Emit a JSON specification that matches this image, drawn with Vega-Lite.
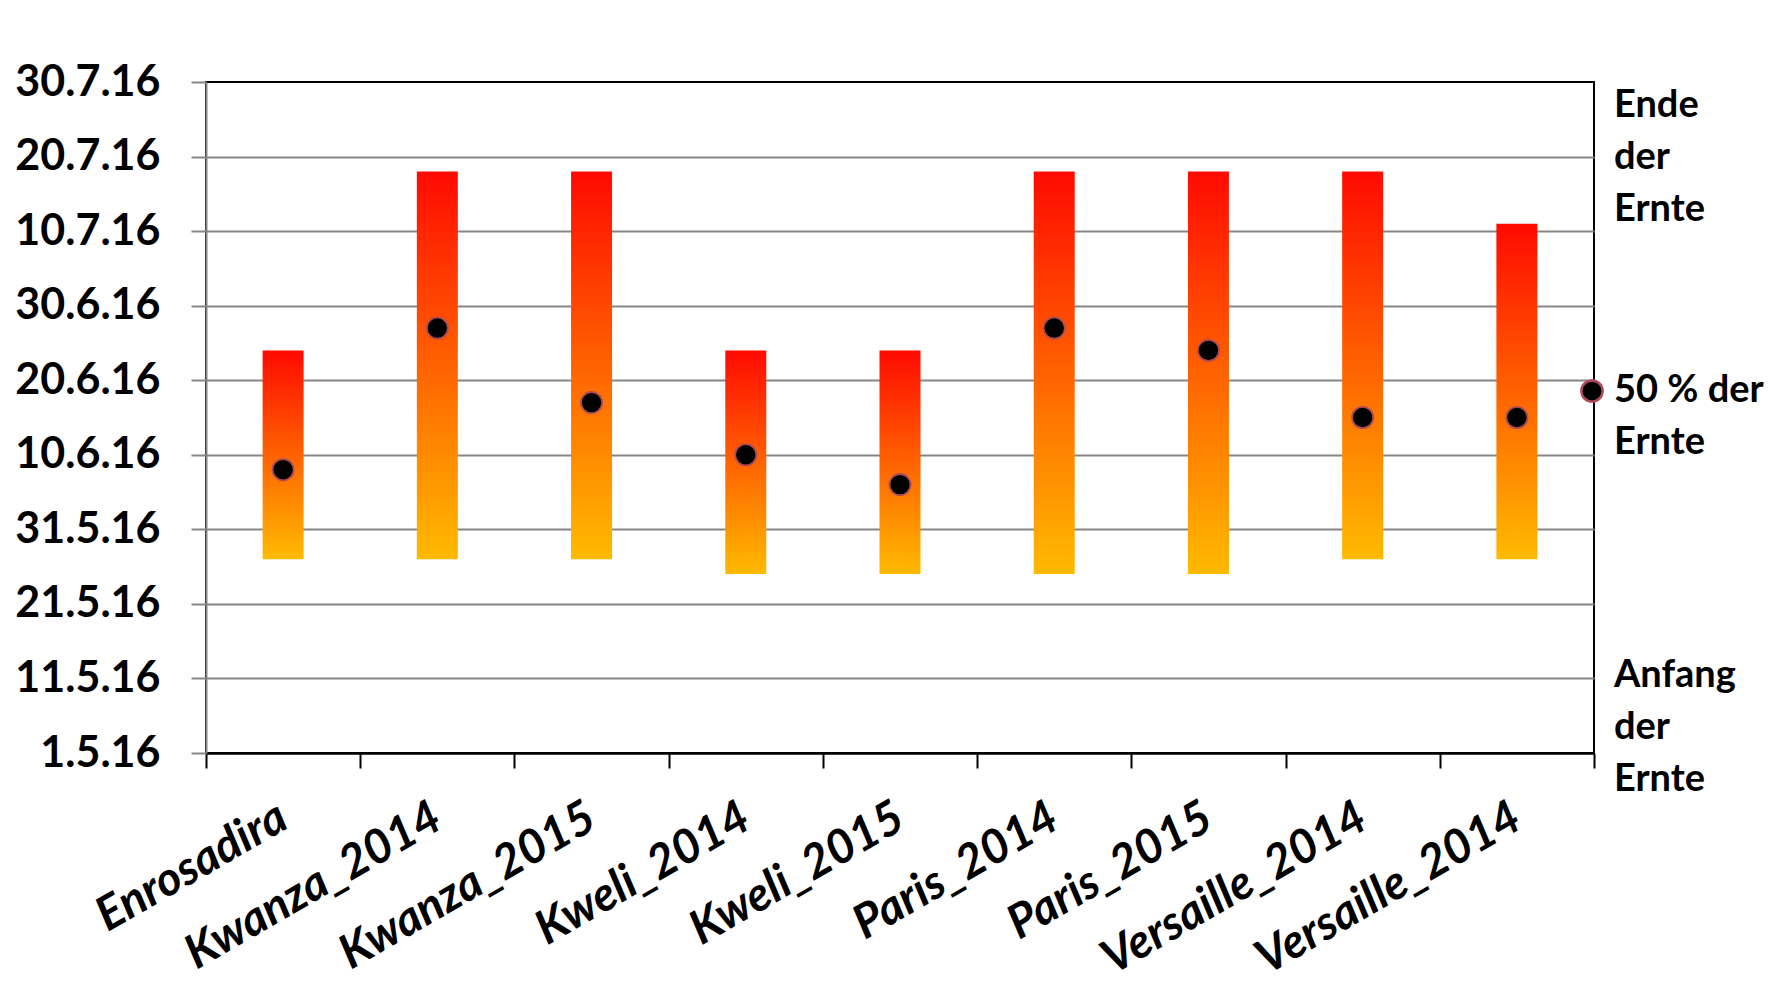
{
  "$schema": "https://vega.github.io/schema/vega-lite/v6.json",
  "width": 1388,
  "height": 671,
  "autosize": {"type": "none"},
  "padding": {"left": 206, "top": 82, "right": 179, "bottom": 236},
  "background": "white",
  "data": {
    "values": [
      {"Sorte": "Enrosadira", "Beginn": "2016-05-27", "Ende": "2016-06-24", "Mitte": "2016-06-08"},
      {"Sorte": "Kwanza_2014", "Beginn": "2016-05-27", "Ende": "2016-07-18", "Mitte": "2016-06-27"},
      {"Sorte": "Kwanza_2015", "Beginn": "2016-05-27", "Ende": "2016-07-18", "Mitte": "2016-06-17"},
      {"Sorte": "Kweli_2014", "Beginn": "2016-05-25", "Ende": "2016-06-24", "Mitte": "2016-06-10"},
      {"Sorte": "Kweli_2015", "Beginn": "2016-05-25", "Ende": "2016-06-24", "Mitte": "2016-06-06"},
      {"Sorte": "Paris_2014", "Beginn": "2016-05-25", "Ende": "2016-07-18", "Mitte": "2016-06-27"},
      {"Sorte": "Paris_2015", "Beginn": "2016-05-25", "Ende": "2016-07-18", "Mitte": "2016-06-24"},
      {"Sorte": "Versaille_2014", "Beginn": "2016-05-27", "Ende": "2016-07-18", "Mitte": "2016-06-15"},
      {"Sorte": "Versaille_2014#2", "Beginn": "2016-05-27", "Ende": "2016-07-11", "Mitte": "2016-06-15"}
    ]
  },
  "encoding": {
    "x": {
      "field": "Sorte",
      "type": "nominal",
      "sort": null,
      "scale": {"paddingInner": 0, "paddingOuter": 0},
      "axis": {
        "title": null,
        "labelExpr": "split(datum.label, '#')[0]",
        "labelAngle": -30,
        "labelAlign": "right",
        "labelBaseline": "middle",
        "labelPadding": 46,
        "labelFont": "Lato",
        "labelFontSize": 47,
        "labelFontStyle": "italic",
        "labelFontWeight": "bold",
        "labelColor": "black",
        "labelLimit": 0,
        "labelOverlap": false,
        "tickBand": "extent",
        "tickSize": 15,
        "tickColor": "black",
        "tickWidth": 2,
        "domainColor": "black",
        "domainWidth": 2.5,
        "grid": false
      }
    }
  },
  "layer": [
    {
      "mark": {
        "type": "bar",
        "width": 41,
        "color": {
          "gradient": "linear",
          "x1": 0, "y1": 1, "x2": 0, "y2": 0,
          "stops": [
            {"offset": 0, "color": "#FFBA00"},
            {"offset": 1, "color": "#FF0A00"}
          ]
        }
      },
      "encoding": {
        "y": {
          "field": "Beginn",
          "type": "temporal",
          "scale": {
            "type": "utc",
            "nice": false,
            "domain": [
              {"year": 2016, "month": 5, "date": 1, "utc": true},
              {"year": 2016, "month": 7, "date": 30, "utc": true}
            ]
          },
          "axis": {
            "title": null,
            "values": [
              {"year": 2016, "month": 5, "date": 1, "utc": true},
              {"year": 2016, "month": 5, "date": 11, "utc": true},
              {"year": 2016, "month": 5, "date": 21, "utc": true},
              {"year": 2016, "month": 5, "date": 31, "utc": true},
              {"year": 2016, "month": 6, "date": 10, "utc": true},
              {"year": 2016, "month": 6, "date": 20, "utc": true},
              {"year": 2016, "month": 6, "date": 30, "utc": true},
              {"year": 2016, "month": 7, "date": 10, "utc": true},
              {"year": 2016, "month": 7, "date": 20, "utc": true},
              {"year": 2016, "month": 7, "date": 30, "utc": true}
            ],
            "format": "%-d.%-m.%y",
            "labelFont": "Lato",
            "labelFontSize": 43,
            "labelFontWeight": "bold",
            "labelColor": "black",
            "labelPadding": 31,
            "labelFlush": false,
            "labelOverlap": false,
            "tickSize": 15,
            "tickColor": "#868686",
            "tickWidth": 2,
            "domainColor": "#868686",
            "domainWidth": 2,
            "grid": true,
            "gridColor": "#868686",
            "gridWidth": 2,
            "gridOpacity": {
              "condition": {"test": "datum.value > utc(2016,6,29) || datum.value < utc(2016,4,2)", "value": 0},
              "value": 1
            }
          }
        },
        "y2": {"field": "Ende"}
      }
    },
    {
      "mark": {"type": "point", "filled": true, "opacity": 1, "size": 450, "strokeWidth": 1.8},
      "encoding": {
        "y": {"field": "Mitte", "type": "temporal"},
        "color": {
          "datum": "50 % der Ernte",
          "type": "nominal",
          "scale": {
            "domain": ["Ende der Ernte", "50 % der Ernte", "Anfang der Ernte"],
            "range": ["rgba(0,0,0,0)", "black", "rgba(0,0,0,0)"]
          },
          "legend": {
            "title": null,
            "orient": "none",
            "legendX": 1367,
            "legendY": 5,
            "padding": 0,
            "rowPadding": 143,
            "labelFont": "Lato",
            "labelFontSize": 38,
            "labelFontWeight": "bold",
            "labelColor": "black",
            "labelOffset": 3,
            "labelLimit": 0,
            "symbolType": "circle",
            "symbolSize": 450,
            "symbolStrokeWidth": 2.5,
            "labelExpr": "datum.label === '50 % der Ernte' ? ['50 % der', 'Ernte'] : datum.label === 'Anfang der Ernte' ? ['', 'Anfang', 'der', 'Ernte'] : split(datum.label, ' ')"
          }
        },
        "stroke": {
          "datum": "50 % der Ernte",
          "type": "nominal",
          "scale": {
            "domain": ["Ende der Ernte", "50 % der Ernte", "Anfang der Ernte"],
            "range": ["rgba(0,0,0,0)", "#b04a58", "rgba(0,0,0,0)"]
          },
          "legend": {
            "title": null,
            "orient": "none",
            "legendX": 1367,
            "legendY": 5,
            "padding": 0,
            "rowPadding": 143,
            "labelFont": "Lato",
            "labelFontSize": 38,
            "labelFontWeight": "bold",
            "labelColor": "black",
            "labelOffset": 3,
            "labelLimit": 0,
            "symbolType": "circle",
            "symbolSize": 450,
            "symbolStrokeWidth": 2.5,
            "labelExpr": "datum.label === '50 % der Ernte' ? ['50 % der', 'Ernte'] : datum.label === 'Anfang der Ernte' ? ['', 'Anfang', 'der', 'Ernte'] : split(datum.label, ' ')"
          }
        }
      }
    }
  ],
  "config": {
    "view": {"stroke": "black", "strokeWidth": 2},
    "style": {"guide-label": {"lineHeight": 52}}
  }
}
